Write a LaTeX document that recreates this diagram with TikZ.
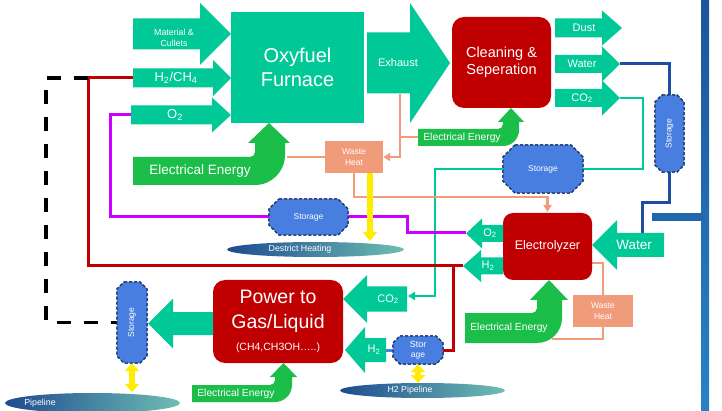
\documentclass[tikz,border=0pt]{standalone}
\usepackage{fontspec}
\setmainfont{Liberation Sans}
\usetikzlibrary{arrows.meta,shapes.geometric}
\definecolor{teal1}{RGB}{0,200,150}
\definecolor{darkred1}{RGB}{192,0,0}
\definecolor{elecg}{RGB}{26,190,72}
\definecolor{salmon1}{RGB}{240,155,122}
\definecolor{storblue}{RGB}{72,126,224}
\definecolor{navy1}{RGB}{31,56,100}
\definecolor{purp}{RGB}{204,0,255}
\definecolor{wblue}{RGB}{31,78,160}
\definecolor{yel}{RGB}{255,236,0}
\definecolor{ellL}{RGB}{30,75,145}
\definecolor{ellR}{RGB}{110,190,178}
\definecolor{bigtop}{RGB}{28,85,155}
\definecolor{bigbot}{RGB}{40,130,200}
% block arrow: style, tail x, head base x, tip x, mid y, half body, half head
\newcommand\hblock[7]{\fill[#1] (#2,{#5-#6}) -- (#3,{#5-#6}) -- (#3,{#5-#7}) -- (#4,#5) -- (#3,{#5+#7}) -- (#3,{#5+#6}) -- (#2,{#5+#6}) -- cycle;}
% bent arrow: L yt yb xs1 xs2 yh xh1 xh2 ytip
\newcommand\bentarrow[9]{\fill[elecg] (#1,#2) -- ({#4-5},#2) .. controls ({#4-2.24},#2) and (#4,{#2-2.24}) .. (#4,{#2-5}) -- (#4,#6) -- (#7,#6) -- ({(#7+#8)/2},#9) -- (#8,#6) -- (#5,#6) -- (#5,{#3-(#5-#4)}) .. controls (#5,{#3-0.448*(#5-#4)}) and ({#5-0.448*(#5-#4)},#3) .. (#4,#3) -- (#1,#3) -- cycle;}
% storage: name cx cy halfw halfh chamfer text
\newcommand\storagebox[7]{%
 \filldraw[storsh] ({#2-#4+#6},{#3-#5}) -- ({#2+#4-#6},{#3-#5}) -- ({#2+#4},{#3-#5+#6}) -- ({#2+#4},{#3+#5-#6}) -- ({#2+#4-#6},{#3+#5}) -- ({#2-#4+#6},{#3+#5}) -- ({#2-#4},{#3+#5-#6}) -- ({#2-#4},{#3-#5+#6}) -- cycle;
 \node[wt, font=\fontsize{8.5}{10}\selectfont, minimum width={2*#4}, minimum height={2*#5}] (#1) at (#2,#3) {#7};}
\begin{document}
\begin{tikzpicture}[x=1pt,y=-1pt,
  wt/.style={text=white, inner sep=0pt, align=center},
  storsh/.style={fill=storblue, draw=navy1, dash pattern=on 3pt off 2pt, line width=1.2pt},
  tealfill/.style={fill=teal1},
  redbox/.style={wt, fill=darkred1, rounded corners=12pt},
  heatbox/.style={wt, fill=salmon1, font=\fontsize{8.5}{10.5}\selectfont},
  tline/.style={draw=teal1, line width=2.5pt},
  wline/.style={draw=wblue, line width=3pt},
  pline/.style={draw=purp, line width=3pt},
  rline/.style={draw=darkred1, line width=3pt},
  dline/.style={draw=black, line width=3.5pt, dash pattern=on 14pt off 13pt},
  sline/.style={draw=salmon1, line width=2.5pt},
  stip/.style={-{Triangle[width=8pt,length=7pt]}},
  yarrow/.style={draw=yel, line width=6.5pt, -{Triangle[width=14pt,length=9pt]}},
  ydouble/.style={draw=yel, line width=6pt, {Triangle[width=14pt,length=8pt]}-{Triangle[width=14pt,length=8pt]}},
  fbig/.style={font=\fontsize{20}{24}\selectfont},
  fmid/.style={font=\fontsize{13}{15}\selectfont},
  fsm/.style={font=\fontsize{11}{13}\selectfont},
  fel/.style={font=\fontsize{10.3}{12}\selectfont},
  ftiny/.style={font=\fontsize{8.8}{10.5}\selectfont}
]
\useasboundingbox (0,0) rectangle (722,411);

% ---- big blue water main
\fill[top color=bigtop, bottom color=bigbot] (701,0) rectangle (709,411);
\fill[bigtop!60!bigbot] (652,213.5) rectangle (705,221.5);

% ---- named connection points
\coordinate (h2L) at (133,78);
\coordinate (redc) at (88,78);
\coordinate (o2L) at (131,115);
\coordinate (exB) at (400,94);
\coordinate (exBr) at (400,137);
\coordinate (elEleft) at (420,137);
\coordinate (watT) at (620,64);
\coordinate (co2T) at (620,98);
\coordinate (watElT) at (642,233);
\coordinate (o2E) at (466,233);
\coordinate (h2E) at (463,266);
\coordinate (redBr) at (453,266);
\coordinate (co2P) at (408,296);
\coordinate (elzE) at (592,263);
\coordinate (elA) at (287,157);
\coordinate (elC) at (552,339);

% ---- shapes that lines attach to (storages & boxes) defined first for anchors
\storagebox{storR}{669.5}{133.5}{14.5}{38.5}{7}{\rotatebox{90}{Storage}}
\storagebox{storM}{543}{169}{40}{24}{12}{Storage}
\storagebox{storL}{308.5}{217}{39.5}{18}{10}{Storage}
\storagebox{storP}{132}{322.5}{15}{40.5}{7}{\rotatebox{90}{Storage}}
\storagebox{storH}{418}{350}{25}{14}{7}{\fontsize{9}{11}\selectfont Stor\\age}

\node[heatbox, minimum width=58, minimum height=32] (wh1) at (354,157) {Waste\\Heat};
\node[heatbox, minimum width=60, minimum height=32] (wh2) at (603,311) {Waste\\Heat};

% ---- connectors
\draw[tline] (co2T) -- (643,98) |- (storM.east);
\draw[tline, stip] (storM.west) -- (435,169) |- (co2P);
\draw[wline] (watT) -| (storR.north);
\draw[wline] (storR.south) -- (669.5,203) -| (watElT);
\draw[pline] (o2L) -- (110,115) |- (storL.west);
\draw[pline] (storL.east) -- (407,217) |- (o2E);
\draw[rline] (h2L) -- (redc) |- (h2E);
\draw[rline] (redBr) |- (storH.east);
\draw[dline] (redc) -- (46,78) |- (storP.west);
\draw[sline, stip] (exB) |- (wh1.east);
\draw[sline] (exBr) -- (elEleft);
\draw[sline] (elA) -- (wh1.west);
\draw[sline, stip] (wh1.south) -- (354,197) -| (547.5,212);
\draw[sline] (elzE) -| (wh2.north);
\draw[sline] (wh2.south) |- (elC);
\draw[draw=storblue, line width=3pt] (386,350) -- (storH.west);

% ---- redraw storages on top of lines
\storagebox{storR}{669.5}{133.5}{14.5}{38.5}{7}{\rotatebox{90}{Storage}}
\storagebox{storM}{543}{169}{40}{24}{12}{Storage}
\storagebox{storL}{308.5}{217}{39.5}{18}{10}{Storage}
\storagebox{storP}{132}{322.5}{15}{40.5}{7}{\rotatebox{90}{Storage}}
\storagebox{storH}{418}{350}{25}{14}{7}{\fontsize{9}{11}\selectfont Stor\\age}

% ---- ellipses
\node[ellipse, left color=ellL, right color=ellR, minimum width=177, minimum height=15, inner sep=0pt] (dh) at (315.5,249.5) {};
\node[wt, ftiny] (dhT) at (300,249.5) {Destrict Heating};
\node[ellipse, left color=ellL, right color=ellR, minimum width=175, minimum height=20, inner sep=0pt] (pl) at (92.5,403) {};
\node[wt, ftiny] (plT) at (40,403) {Pipeline};
\node[ellipse, left color=ellL, right color=ellR, minimum width=165, minimum height=15, inner sep=0pt] (h2pl) at (422.5,390.5) {};
\node[wt, ftiny] (h2plT) at (410,390.5) {H2 Pipeline};

% ---- yellow arrows
\draw[yarrow] (370,173) -- (370,241);
\draw[ydouble] (storP.south) -- (132,392);
\draw[ydouble] (storH.south) -- (418,383);

% ---- main boxes
\node[wt, fbig, fill=teal1, minimum width=133, minimum height=111] (furnace) at (297.5,67.5) {Oxyfuel\\Furnace};
\node[redbox, font=\fontsize{14.5}{17}\selectfont, minimum width=99, minimum height=91] (clean) at (501.5,62.5) {Cleaning \&\\Seperation};
\node[redbox, font=\fontsize{12.5}{15}\selectfont, minimum width=89, minimum height=67, rounded corners=10pt] (elz) at (547.5,246.5) {Electrolyzer};
\node[redbox, font=\fontsize{19.5}{25}\selectfont, minimum width=130, minimum height=83] (ptg) at (278,321.5) {Power to\\Gas/Liquid\\[-3pt]{\fontsize{10.5}{12}\selectfont (CH4,CH3OH…..)}};

% ---- block arrows
\hblock{tealfill}{133}{200}{231}{34}{15.5}{31}
\node[wt, font=\fontsize{8.8}{11}\selectfont] (matT) at (174,38) {Material \&\\Cullets};
\hblock{tealfill}{133}{213}{231}{78}{9.5}{18}
\node[wt, fmid] (h2T) at (176,78) {H\textsubscript{2}/CH\textsubscript{4}};
\hblock{tealfill}{131}{212}{231}{115}{9.5}{17.5}
\node[wt, fmid] (o2T) at (175,115) {O\textsubscript{2}};
\hblock{tealfill}{367}{410}{450}{63}{30.5}{60}
\node[wt, fsm] (exT) at (398,63) {Exhaust};
\hblock{tealfill}{555}{602}{622}{28}{9.5}{17.5}
\node[wt, fsm] (dustT) at (584,28) {Dust};
\hblock{tealfill}{555}{602}{620}{64}{9}{17.5}
\node[wt, fsm] (waterT) at (582,64) {Water};
\hblock{tealfill}{555}{602}{620}{98}{9}{17.5}
\node[wt, fsm] (co2T1) at (582,98) {CO\textsubscript{2}};
\hblock{tealfill}{664}{617}{592}{245}{12}{25}
\node[wt, font=\fontsize{13.5}{16}\selectfont] (waterE) at (634,245) {Water};
\hblock{tealfill}{503}{482}{466}{233.5}{8.5}{15}
\node[wt, fsm] (o2ET) at (490,233) {O\textsubscript{2}};
\hblock{tealfill}{503}{481}{463}{266}{8.5}{16}
\node[wt, fsm] (h2ET) at (488,266) {H\textsubscript{2}};
\hblock{tealfill}{213}{173}{148}{323.5}{11.5}{25}
\hblock{tealfill}{407}{367}{343}{299}{12.5}{24}
\node[wt, fsm] (co2PT) at (388,299) {CO\textsubscript{2}};
\hblock{tealfill}{386}{365}{345}{350}{12}{23}
\node[wt, fsm] (h2PT) at (374,350) {H\textsubscript{2}};

% ---- electrical energy bent arrows
\bentarrow{133}{157}{185}{255}{285}{143}{248}{290}{123}
\node[wt, font=\fontsize{13.5}{16}\selectfont] (eeA) at (200,171) {Electrical Energy};
\bentarrow{418}{129}{146}{503}{519}{122}{498}{524}{108}
\node[wt, fel] (eeB) at (462,137.5) {Electrical Energy};
\bentarrow{465}{313}{343}{537}{562}{300}{530}{568}{280}
\node[wt, fel] (eeC) at (509,328) {Electrical Energy};
\bentarrow{192}{385}{402}{275}{292}{377}{270}{297}{363}
\node[wt, fel] (eeD) at (236,394) {Electrical Energy};
\end{tikzpicture}
\end{document}
